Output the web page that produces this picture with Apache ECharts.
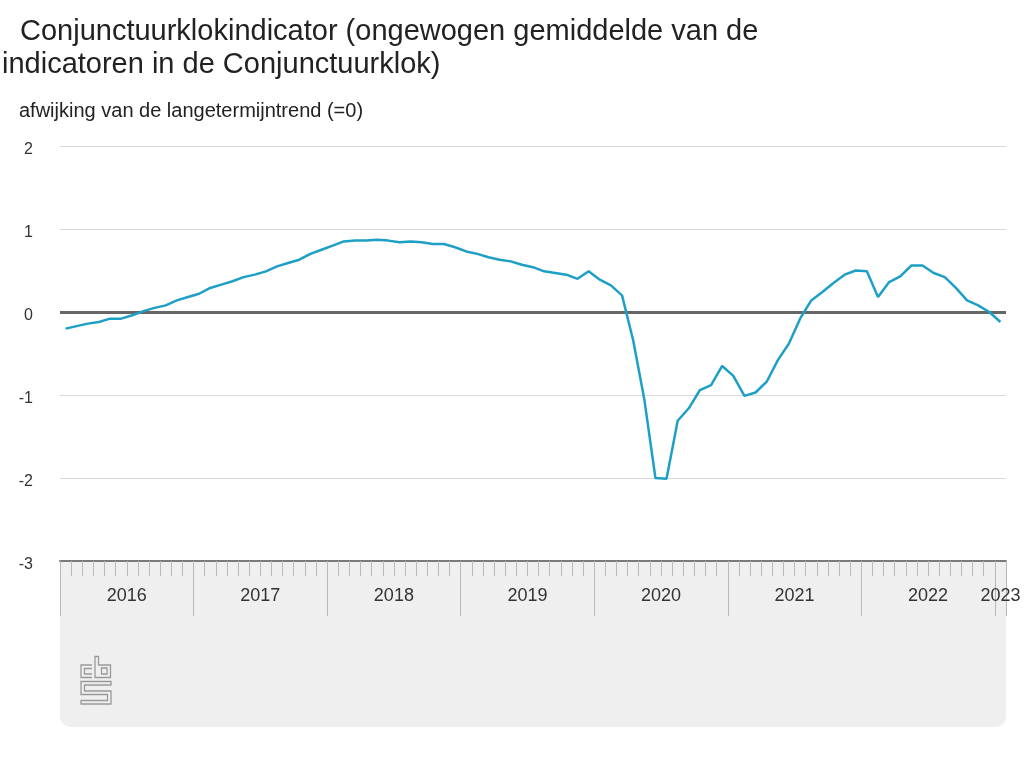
<!DOCTYPE html>
<html>
<head>
<meta charset="utf-8">
<script src="https://cdn.jsdelivr.net/npm/echarts@6/dist/echarts.min.js"></script>
<style>
html,body{margin:0;padding:0;background:#fff;}
#chart{width:1024px;height:768px;}
</style>
</head>
<body>
<div id="chart"></div>
<script>
// ---- data ----
const years = ['2016','2017','2018','2019','2020','2021','2022','2023'];
const monthsInLastYear = 1; // Jan 2023
const values = [
  -0.20,-0.17,-0.14,-0.12,-0.08,-0.08,-0.04, 0.01, 0.05, 0.08, 0.14, 0.18, // 2016
   0.22, 0.29, 0.33, 0.37, 0.42, 0.45, 0.49, 0.55, 0.59, 0.63, 0.70, 0.75, // 2017
   0.80, 0.85, 0.86, 0.86, 0.87, 0.86, 0.84, 0.85, 0.84, 0.82, 0.82, 0.78, // 2018
   0.73, 0.70, 0.66, 0.63, 0.61, 0.57, 0.54, 0.49, 0.47, 0.45, 0.40, 0.49, // 2019
   0.39, 0.32, 0.20,-0.34,-1.05,-2.00,-2.01,-1.31,-1.16,-0.94,-0.88,-0.65, // 2020
  -0.77,-1.01,-0.97,-0.84,-0.58,-0.38,-0.08, 0.14, 0.24, 0.35, 0.45, 0.50, // 2021
   0.49, 0.18, 0.36, 0.43, 0.56, 0.56, 0.47, 0.42, 0.29, 0.14, 0.08, 0.00, // 2022
  -0.12                                                                    // 2023
];
const yTicks = [-3,-2,-1,0,1,2];
const titleLine1 = 'Conjunctuurklokindicator (ongewogen gemiddelde van de';
const titleLine2 = 'indicatoren in de Conjunctuurklok)';
const subtitle = 'afwijking van de langetermijntrend (=0)';

// month slots: one per month, points drawn at slot centres
const nMonths = (years.length - 1) * 12 + monthsInLastYear;
const seriesData = values.map((v, i) => [i + 0.5, v]);
const yearStarts = years.map((y, k) => k * 12);
const yearTickValues = yearStarts.concat([nMonths]);
const yearLabelValues = years.map((y, k) => k < years.length - 1 ? k * 12 + 6 : k * 12 + monthsInLastYear / 2);

const FONT = '"Liberation Sans", Arial, sans-serif';
const chart = echarts.init(document.getElementById('chart'), null, {renderer: 'canvas'});

const option = {
  backgroundColor: '#ffffff',
  animation: false,
  title: [
    {text: titleLine1, left: 15, top: 12, textStyle: {fontFamily: FONT, fontSize: 29, fontWeight: 'normal', color: '#222'}},
    {text: titleLine2, left: -3, top: 45, textStyle: {fontFamily: FONT, fontSize: 29, fontWeight: 'normal', color: '#222'}},
    {text: subtitle, left: 14, top: 96, textStyle: {fontFamily: FONT, fontSize: 20, fontWeight: 'normal', color: '#222'}}
  ],
  graphic: [
    {type: 'rect', z: -10, shape: {x: 60, y: 561, width: 946, height: 166, r: [0, 0, 10, 10]}, style: {fill: '#efefef'}},
    {type: 'group', z: 10, children: [
      {type: 'polyline', shape: {points: [[92,665],[81,665],[81,677.5],[92,677.5]]}, style: {stroke: '#9a9a9a', lineWidth: 1.3, fill: null}},
      {type: 'polyline', shape: {points: [[92,668.5],[84.5,668.5],[84.5,674],[92,674]]}, style: {stroke: '#9a9a9a', lineWidth: 1.3, fill: null}},
      {type: 'polygon', shape: {points: [[95,656.5],[98.5,656.5],[98.5,665],[110.5,665],[110.5,677.5],[95,677.5]]}, style: {stroke: '#9a9a9a', lineWidth: 1.3, fill: null}},
      {type: 'rect', shape: {x: 101.5, y: 668, width: 5.5, height: 6}, style: {stroke: '#9a9a9a', lineWidth: 1.3, fill: null}},
      {type: 'polygon', shape: {points: [[81,681.5],[111,681.5],[111,685],[84.5,685],[84.5,691],[111,691],[111,704],[81,704],[81,700.5],[107.5,700.5],[107.5,694.5],[81,694.5]]}, style: {stroke: '#9a9a9a', lineWidth: 1.3, fill: null}}
    ]}
  ],
  grid: {left: 60, right: 18, top: 146, bottom: 207, containLabel: false},
  xAxis: [
    {
      type: 'value', min: 0, max: nMonths, interval: 1,
      axisLine: {show: true, onZero: false, lineStyle: {color: '#7a7a7a', width: 2}},
      axisTick: {show: true, length: 15, lineStyle: {color: '#b8b8b8', width: 1}},
      axisLabel: {show: false},
      splitLine: {show: false},
      z: 3
    },
    {
      type: 'value', min: 0, max: nMonths, position: 'bottom',
      axisLine: {show: false, onZero: false},
      axisTick: {show: true, length: 55, customValues: yearTickValues, lineStyle: {color: '#b8b8b8', width: 1}},
      axisLabel: {
        show: true, customValues: yearLabelValues, margin: 26,
        fontFamily: FONT, fontSize: 18, color: '#333',
        formatter: v => years[Math.floor(v / 12)]
      },
      splitLine: {show: false},
      z: 2
    }
  ],
  yAxis: {
    type: 'value', min: -3, max: 2, interval: 1,
    axisLine: {show: false}, axisTick: {show: false},
    axisLabel: {
      margin: 27, fontFamily: FONT, fontSize: 16, color: '#333',
      formatter: v => yTicks.indexOf(v) >= 0 ? '{a|' + v + '}' : '',
      rich: {a: {fontFamily: FONT, fontSize: 16, color: '#333', padding: [8, 0, 0, 0]}}
    },
    splitLine: {show: true, lineStyle: {color: '#d9d9d9', width: 1}}
  },
  series: [{
    type: 'line', xAxisIndex: 0, data: seriesData,
    showSymbol: false, symbol: 'none',
    lineStyle: {color: '#1e9fc5', width: 2.5},
    z: 5,
    markLine: {
      silent: true, symbol: ['none', 'none'], label: {show: false},
      lineStyle: {color: '#666', width: 3, type: 'solid'},
      data: [{yAxis: 0}],
      z: 4
    }
  }]
};
chart.setOption(option);
</script>
</body>
</html>
